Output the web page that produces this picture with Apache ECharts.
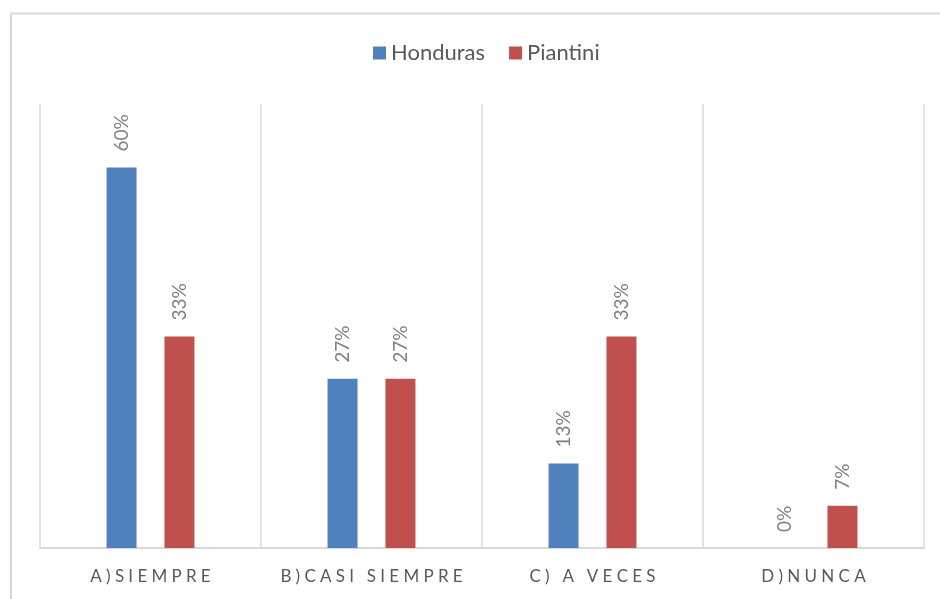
<!DOCTYPE html>
<html>
<head>
<meta charset="utf-8">
<script src="https://cdn.jsdelivr.net/npm/echarts@6/dist/echarts.min.js"></script>
<style>html,body{margin:0;padding:0;background:#fff}#c{width:940px;height:599px}</style>
</head>
<body>
<div id="c"></div>
<script>
const categories = ['A)SIEMPRE', 'B)CASI SIEMPRE', 'C) A VECES', 'D)NUNCA'];
const honduras = [60, 26.67, 13.33, 0];
const piantini = [33.33, 26.67, 33.33, 6.67];
const seriesNames = ['Honduras', 'Piantini'];

const chart = echarts.init(document.getElementById('c'));
const labelOpt = {
  show: true,
  position: 'top',
  rotate: 90,
  align: 'left',
  verticalAlign: 'middle',
  distance: 16,
  color: '#808080',
  fontFamily: 'Lato',
  fontSize: 19,
  formatter: p => Math.round(p.value) + '%'
};
chart.setOption({
  animation: false,
  graphic: [{
    type: 'rect',
    shape: { x: 11, y: 13.5, width: 1000, height: 1000 },
    style: { fill: 'none', stroke: '#d9d9d9', lineWidth: 2 },
    silent: true
  }],
  legend: {
    top: 42,
    left: 373,
    padding: 0,
    itemWidth: 13,
    itemHeight: 13,
    itemGap: 24,
    icon: 'rect',
    textStyle: { fontFamily: 'Lato', fontSize: 22, color: '#595959' },
    data: seriesNames
  },
  grid: { left: 40, right: 16, top: 104, bottom: 51 },
  xAxis: {
    type: 'category',
    data: categories,
    axisLine: { lineStyle: { color: '#d9d9d9', width: 2 } },
    axisTick: { show: false },
    splitLine: { show: true, interval: 0, lineStyle: { color: '#d9d9d9', width: 1.5 } },
    axisLabel: {
      interval: 0,
      margin: 20,
      color: '#595959',
      fontFamily: 'Lato',
      fontSize: 17,
      formatter: v => v.split('').join('\u2005')
    }
  },
  yAxis: {
    type: 'value',
    min: 0,
    max: 70,
    show: false
  },
  series: [
    {
      name: seriesNames[0], type: 'bar', data: honduras,
      itemStyle: { color: '#4f81bd' },
      barWidth: 30, barGap: '93%',
      label: labelOpt
    },
    {
      name: seriesNames[1], type: 'bar', data: piantini,
      itemStyle: { color: '#c0504d' },
      barWidth: 30, barGap: '93%',
      label: labelOpt
    }
  ]
});
</script>
</body>
</html>
